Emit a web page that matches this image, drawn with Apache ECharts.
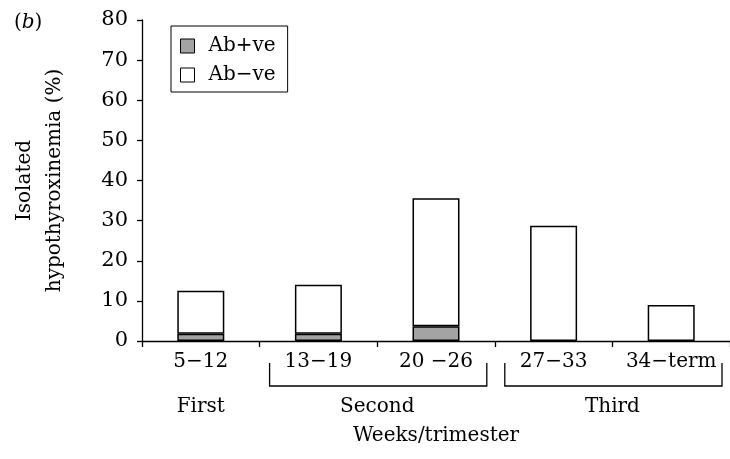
<!DOCTYPE html>
<html>
<head>
<meta charset="utf-8">
<script src="https://cdn.jsdelivr.net/npm/echarts@6/dist/echarts.min.js"></script>
<style>
html,body{margin:0;padding:0;background:#fff;}
#chart{width:730px;height:459px;}
</style>
</head>
<body>
<div id="chart"></div>
<script>
const categories = ['5\u221212', '13\u221219', '20 \u221226', '27\u221233', '34\u2212term'];
const abPos = [1.8, 1.8, 3.7, 0, 0];
const abNeg = [10.7, 12.2, 31.9, 28.7, 9.0];
const trimesters = ['First', 'Second', 'Third'];
const trimesterSpans = [[0, 0], [1, 2], [3, 4]];
const yMin = 0, yMax = 80, yInterval = 10;

const FONT = 'DejaVu Serif';
const FS = 20;
const chart = echarts.init(document.getElementById('chart'), null, {renderer: 'canvas'});

const option = {
  backgroundColor: '#fff',
  animation: false,
  title: {
    text: '({b|b})',
    left: 9, top: 8,
    textStyle: {
      fontFamily: FONT, fontSize: FS, fontWeight: 'normal', color: '#000',
      rich: { b: { fontFamily: FONT, fontSize: FS, fontStyle: 'italic', color: '#000' } }
    }
  },
  legend: {
    orient: 'vertical',
    left: 171, top: 26,
    padding: [10, 12, 7, 9],
    itemWidth: 14, itemHeight: 14, itemGap: 9,
    borderColor: '#000', borderWidth: 1,
    icon: 'rect',
    textStyle: { fontFamily: FONT, fontSize: FS, color: '#000', padding: [0, 0, 0, 9] },
    itemStyle: { borderColor: '#000', borderWidth: 1 },
    data: ['Ab+ve', 'Ab\u2212ve']
  },
  grid: { left: 142, top: 20, width: 591, height: 321 },
  xAxis: {
    type: 'category',
    data: categories,
    boundaryGap: true,
    axisLine: { lineStyle: { color: '#000', width: 1.3 } },
    axisTick: { show: true, alignWithLabel: false, length: 6, lineStyle: { color: '#000', width: 1.3 } },
    axisLabel: { fontFamily: FONT, fontSize: FS, color: '#000', margin: 11, interval: 0 },
    name: 'Weeks/trimester',
    nameLocation: 'middle',
    nameGap: 85,
    nameTextStyle: { fontFamily: FONT, fontSize: FS, color: '#000' }
  },
  yAxis: {
    type: 'value',
    min: yMin, max: yMax, interval: yInterval,
    splitLine: { show: false },
    axisLine: { show: true, lineStyle: { color: '#000', width: 1.3 } },
    axisTick: { show: true, length: 5, lineStyle: { color: '#000', width: 1.3 } },
    axisLabel: { fontFamily: FONT, fontSize: 21, color: '#000', margin: 14 },
    name: 'Isolated\nhypothyroxinemia (%)',
    nameLocation: 'middle',
    nameRotate: 90,
    nameGap: 72,
    nameTextStyle: { fontFamily: FONT, fontSize: FS, color: '#000', lineHeight: 30 }
  },
  series: [
    {
      name: 'Ab+ve', type: 'bar', stack: 'total', barWidth: 47,
      data: abPos.map(v => v === 0 ? { value: v, itemStyle: { borderWidth: 0 } } : v),
      itemStyle: { color: '#a3a3a3', borderColor: '#000', borderWidth: 1.5 }
    },
    {
      name: 'Ab\u2212ve', type: 'bar', stack: 'total', barWidth: 47,
      data: abNeg,
      itemStyle: { color: '#fff', borderColor: '#000', borderWidth: 1.5 }
    }
  ]
};
chart.setOption(option);

// Trimester brackets and labels, positioned from the category axis scale
const graphics = [];
const half = (chart.convertToPixel({xAxisIndex: 0}, categories[1]) - chart.convertToPixel({xAxisIndex: 0}, categories[0])) / 2;
const axisY = chart.convertToPixel({yAxisIndex: 0}, 0);
trimesterSpans.forEach((span, i) => {
  const x0 = chart.convertToPixel({xAxisIndex: 0}, categories[span[0]]);
  const x1 = chart.convertToPixel({xAxisIndex: 0}, categories[span[1]]);
  const cx = (x0 + x1) / 2;
  if (span[1] > span[0]) {
    const l = x0 - half + 10, r = x1 + half - 8;
    graphics.push({
      type: 'polyline',
      shape: { points: [[l, axisY + 22], [l, axisY + 45], [r, axisY + 45], [r, axisY + 22]] },
      style: { stroke: '#000', lineWidth: 1.3, fill: null }
    });
  }
  graphics.push({
    type: 'text',
    style: { text: trimesters[i], x: cx, y: axisY + 66, align: 'center', verticalAlign: 'middle',
             font: FS + 'px "' + FONT + '"', fill: '#000' }
  });
});
chart.setOption({ graphic: graphics });
</script>
</body>
</html>
